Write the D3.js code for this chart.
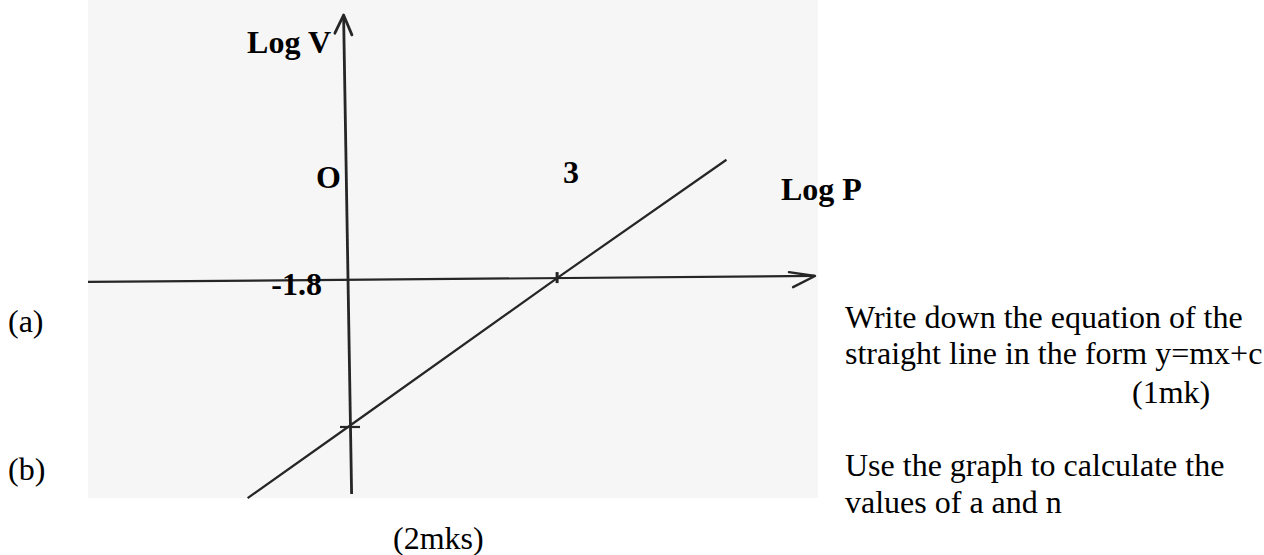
<!DOCTYPE html>
<html>
<head>
<meta charset="utf-8">
<script src="https://cdn.jsdelivr.net/npm/d3@7"></script>
<style>
  html, body { margin: 0; padding: 0; background: #ffffff; }
  svg { display: block; }
</style>
</head>
<body>
<svg id="sheet" width="1264" height="555"></svg>
<script>
// Straight-line graph of log V against log P
const linePointsLogP = [-1.44, 0, 3, 5.43];
const linePointsLogV = [-2.66, -1.8, 0, 1.43];

// Marked points on the axes
const interceptLogV = -1.8;   // cut on the log V axis
const interceptLogP = 3;      // cut on the log P axis

// Axis and point labels
const axisTitles = ["Log P", "Log V"];
const pointLabels = ["O", "3", "-1.8"];

// Question text
const partLabels = ["(a)", "(b)"];
const partA = ["Write down the equation of the", "straight line in the form y=mx+c", "(1mk)"];
const partB = ["Use the graph to calculate the", "values of a and n", "(2mks)"];

const svg = d3.select("#sheet");
const ink = "#262626";

// Scanned graph panel
svg.append("rect")
  .attr("x", 88).attr("y", 0)
  .attr("width", 730).attr("height", 498)
  .attr("fill", "#f6f6f6");

const x = d3.scaleLinear().domain([-3.73, 6.70]).range([88, 815]);
const y = d3.scaleLinear().domain([-2.61, 3.18]).range([494, 15]);

const x0 = x(0), y0 = y(0);
const graph = svg.append("g");

// log P axis (horizontal), drawn by hand so it leans slightly
const hAxis = graph.append("g")
  .attr("transform", `rotate(-0.47, ${x(interceptLogP)}, ${y0})`);
hAxis.append("line")
  .attr("x1", x.range()[0]).attr("x2", x.range()[1])
  .attr("y1", y0).attr("y2", y0)
  .attr("stroke", ink).attr("stroke-width", 2.2);
hAxis.append("path")
  .attr("d", `M${x.range()[1] - 26},${y0 - 4} L${x.range()[1]},${y0} L${x.range()[1] - 22},${y0 + 11}`)
  .attr("fill", "none").attr("stroke", ink).attr("stroke-width", 2.4)
  .attr("stroke-linecap", "round").attr("stroke-linejoin", "round");

// log V axis (vertical)
const vAxis = graph.append("g")
  .attr("transform", `rotate(-0.96, ${x0}, ${y0})`);
vAxis.append("line")
  .attr("x1", x0).attr("x2", x0)
  .attr("y1", y.range()[0]).attr("y2", y.range()[1])
  .attr("stroke", ink).attr("stroke-width", 2.8);
vAxis.append("path")
  .attr("d", `M${x0 - 9},${y.range()[1] + 18} L${x0},${y.range()[1]} L${x0 + 8},${y.range()[1] + 20}`)
  .attr("fill", "none").attr("stroke", ink).attr("stroke-width", 2.8)
  .attr("stroke-linecap", "round").attr("stroke-linejoin", "round");

// The fitted straight line
const pts = linePointsLogP.map((p, i) => [p, linePointsLogV[i]]);
graph.append("path")
  .datum(pts)
  .attr("d", d3.line().x(d => x(d[0])).y(d => y(d[1])))
  .attr("fill", "none").attr("stroke", ink).attr("stroke-width", 2.2);

// Tick marks where the line cuts each axis
graph.append("line")
  .attr("x1", x(0) - 8).attr("x2", x(0) + 12)
  .attr("y1", y(interceptLogV)).attr("y2", y(interceptLogV))
  .attr("stroke", ink).attr("stroke-width", 2.2);
graph.append("line")
  .attr("x1", x(interceptLogP)).attr("x2", x(interceptLogP))
  .attr("y1", y(0) - 6).attr("y2", y(0) + 5)
  .attr("stroke", ink).attr("stroke-width", 3);

// Bold graph labels
const bold = { "font-family": "'Liberation Serif', 'Times New Roman', serif", "font-weight": "bold", "font-size": "32px", fill: "#000" };
function label(text, px, py, anchor) {
  const t = graph.append("text").text(text)
    .attr("x", px).attr("y", py).attr("text-anchor", anchor || "start");
  Object.entries(bold).forEach(([k, v]) => t.attr(k, v));
}
label(axisTitles[1], x0 - 17, 53, "end");
label(axisTitles[0], 781, 200);
label(pointLabels[0], x0 - 7, 188, "end");
label(pointLabels[1], x(interceptLogP) + 6, 183);
label(pointLabels[2], x0 - 26, 295, "end");

// Question text
const body = svg.append("g")
  .attr("font-family", "'Liberation Serif', 'Times New Roman', serif")
  .attr("font-size", "32px").attr("fill", "#000");
body.append("text").text(partLabels[0]).attr("x", 8).attr("y", 332);
body.append("text").text(partLabels[1]).attr("x", 8).attr("y", 480);
body.append("text").text(partA[0]).attr("x", 845).attr("y", 328);
body.append("text").text(partA[1]).attr("x", 845).attr("y", 364);
body.append("text").text(partA[2]).attr("x", 1132).attr("y", 403);
body.append("text").text(partB[0]).attr("x", 845).attr("y", 476);
body.append("text").text(partB[1]).attr("x", 845).attr("y", 513);
body.append("text").text(partB[2]).attr("x", 393).attr("y", 549);
</script>
</body>
</html>
